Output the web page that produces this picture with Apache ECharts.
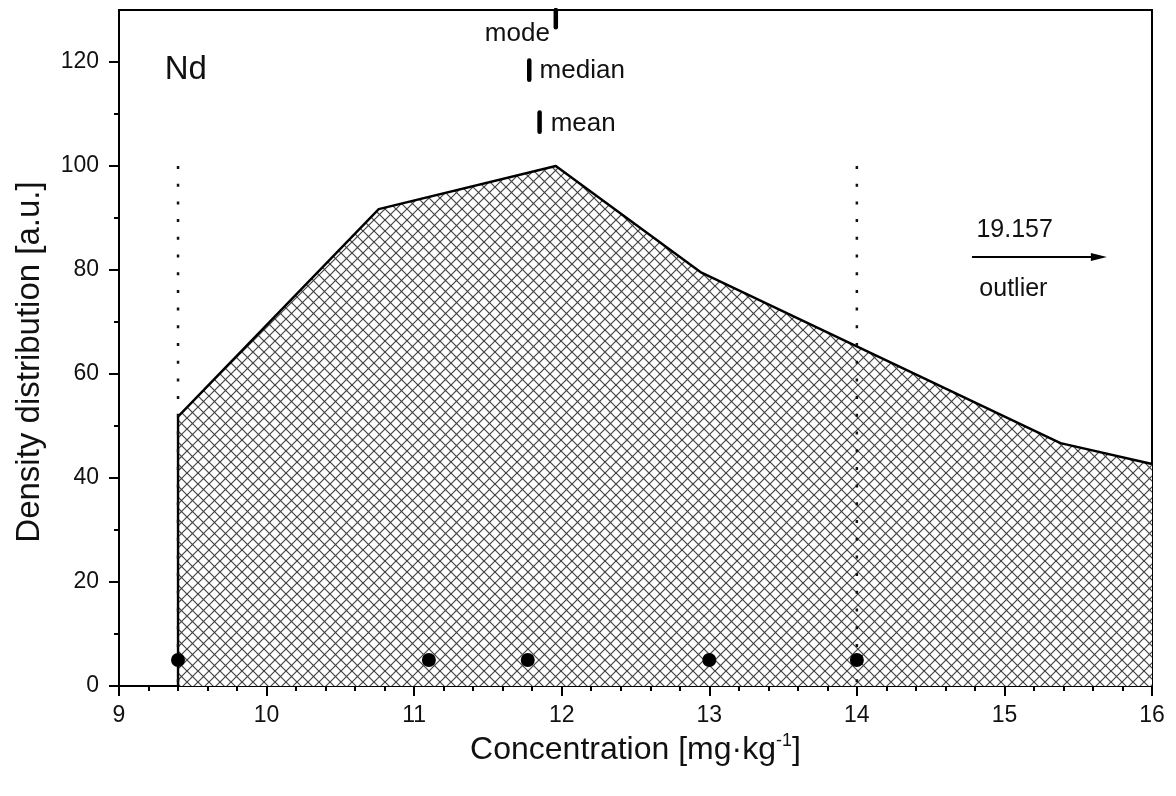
<!DOCTYPE html>
<html>
<head>
<meta charset="utf-8">
<script src="https://cdn.jsdelivr.net/npm/echarts@6/dist/echarts.min.js"></script>
<style>
  html, body { margin: 0; padding: 0; background: #fff; }
  #chart { width: 1176px; height: 796px; }
</style>
</head>
<body>
<div id="chart"></div>
<script>
// density polygon (Nd)
var densityX = [9.4, 9.4, 10.76, 11.96, 12.94, 15.38, 16]
var densityY = [0, 51.8, 91.7, 100, 79.6, 46.7, 42.7]

// box points along the bottom
var boxX = [9.4, 11.1, 11.77, 13, 14]
var boxY = [5, 5, 5, 5, 5]

// dotted fences
var fenceX = [9.4, 14]
var fenceTop = [100, 100]

// mode / median / mean markers [x, yFrom, yTo]
var modeMark = [11.96, 130, 126.7]
var medianMark = [11.78, 120.3, 116.6]
var meanMark = [11.85, 110.3, 106.6]

// outlier arrow [xFrom, xTo, y]
var outlierArrow = [14.78, 15.64, 82.5]

var yMajorTicks = [0, 20, 40, 60, 80, 100, 120]
var yMinorTicks = [10, 30, 50, 70, 90, 110]

var FONT = 'Liberation Sans, Arial, sans-serif'
var INK = '#111'

function hatch() {
  var s = 11
  var c = document.createElement('canvas')
  c.width = s
  c.height = s
  var ctx = c.getContext('2d')
  ctx.fillStyle = '#fff'
  ctx.fillRect(0, 0, s, s)
  ctx.strokeStyle = '#444'
  ctx.lineWidth = 1.2
  for (var k = -1; k <= 1; k++) {
    ctx.beginPath()
    ctx.moveTo(-2, -2 + k * s)
    ctx.lineTo(s + 2, s + 2 + k * s)
    ctx.stroke()
    ctx.beginPath()
    ctx.moveTo(-2, s + 2 + k * s)
    ctx.lineTo(s + 2, -2 + k * s)
    ctx.stroke()
  }
  return c
}

function pairs(xs, ys) {
  return xs.map(function(x, i) { return [x, ys[i]] })
}

function marker(m) {
  return {
    type: 'line',
    data: [[m[0], m[1]], [m[0], m[2]]],
    symbol: 'none',
    lineStyle: { color: '#000', width: 4.5, cap: 'round' },
    z: 5
  }
}

var fenceSeries = fenceX.map(function(x, i) {
  return {
    type: 'line',
    data: [[x, fenceTop[i]], [x, 0]],
    symbol: 'none',
    lineStyle: { color: '#111', width: 2.5, type: [3, 14.7] },
    z: 3
  }
})

function note(x, y, text, pos, size) {
  return {
    value: [x, y],
    label: {
      show: true,
      formatter: text,
      position: pos,
      distance: 0,
      fontFamily: FONT,
      color: INK,
      fontSize: size || 26
    }
  }
}

var chart = echarts.init(document.getElementById('chart'))
chart.setOption({
  backgroundColor: '#fff',
  animation: false,
  grid: {
    left: 119,
    right: 24,
    top: 10,
    bottom: 110,
    show: true,
    borderColor: '#000',
    borderWidth: 2
  },
  xAxis: {
    type: 'value',
    min: 9,
    max: 16,
    interval: 1,
    name: '{a|Concentration [mg·kg}{s|-1}{a|]}',
    nameLocation: 'middle',
    nameGap: 41,
    nameTextStyle: {
      rich: {
        a: { fontFamily: FONT, color: INK, fontSize: 32, lineHeight: 36 },
        s: { fontFamily: FONT, color: INK, fontSize: 18, lineHeight: 36, verticalAlign: 'top', padding: [0, 0, 14, 0] }
      }
    },
    axisLine: { lineStyle: { color: '#000', width: 2 } },
    axisTick: { length: 10, lineStyle: { color: '#000', width: 2 } },
    minorTick: { show: true, splitNumber: 5, length: 5, lineStyle: { color: '#000', width: 2 } },
    axisLabel: { margin: 18, fontFamily: FONT, color: INK, fontSize: 23 },
    splitLine: { show: false }
  },
  yAxis: [
    {
      type: 'value',
      min: 0,
      max: 130,
      name: 'Density distribution [a.u.]',
      nameLocation: 'middle',
      nameGap: 73,
      nameTextStyle: { fontFamily: FONT, color: INK, fontSize: 33, padding: [0, 28, 0, 0] },
      axisLine: { show: true, lineStyle: { color: '#000', width: 2 } },
      axisTick: { show: true, length: 10, customValues: yMajorTicks, lineStyle: { color: '#000', width: 2 } },
      axisLabel: { margin: 20, customValues: yMajorTicks, fontFamily: FONT, color: INK, fontSize: 23 },
      splitLine: { show: false }
    },
    {
      type: 'value',
      min: 0,
      max: 130,
      position: 'left',
      axisLine: { show: false },
      axisTick: { show: true, length: 5, customValues: yMinorTicks, lineStyle: { color: '#000', width: 2 } },
      axisLabel: { show: false },
      splitLine: { show: false }
    }
  ],
  series: [
    {
      type: 'line',
      data: pairs(densityX, densityY),
      symbol: 'none',
      lineStyle: { color: '#000', width: 2.4 },
      areaStyle: { color: { image: hatch(), repeat: 'repeat' }, opacity: 1 },
      z: 2
    }
  ].concat(fenceSeries).concat([
    {
      type: 'scatter',
      data: pairs(boxX, boxY),
      symbol: 'circle',
      symbolSize: 14,
      itemStyle: { color: '#000', opacity: 1 },
      z: 6
    },
    marker(modeMark),
    marker(medianMark),
    marker(meanMark),
    {
      type: 'line',
      data: [
        { value: [outlierArrow[0], outlierArrow[2]], symbol: 'none' },
        { value: [outlierArrow[1], outlierArrow[2]], symbol: 'triangle', symbolSize: [8, 16], symbolRotate: -90 }
      ],
      lineStyle: { color: '#000', width: 2 },
      itemStyle: { color: '#000', opacity: 1 },
      z: 5
    },
    {
      type: 'scatter',
      symbolSize: 0,
      itemStyle: { color: 'rgba(0,0,0,0)', opacity: 1 },
      silent: true,
      data: [
        note(9.31, 118.5, 'Nd', 'right', 33),
        note(11.92, 125.4, 'mode', 'left'),
        note(11.85, 118.3, 'median', 'right'),
        note(11.925, 108.2, 'mean', 'right'),
        note(14.81, 87.6, '19.157', 'right', 25),
        note(14.83, 76.4, 'outlier', 'right', 25)
      ],
      z: 7
    }
  ])
})
</script>
</body>
</html>
